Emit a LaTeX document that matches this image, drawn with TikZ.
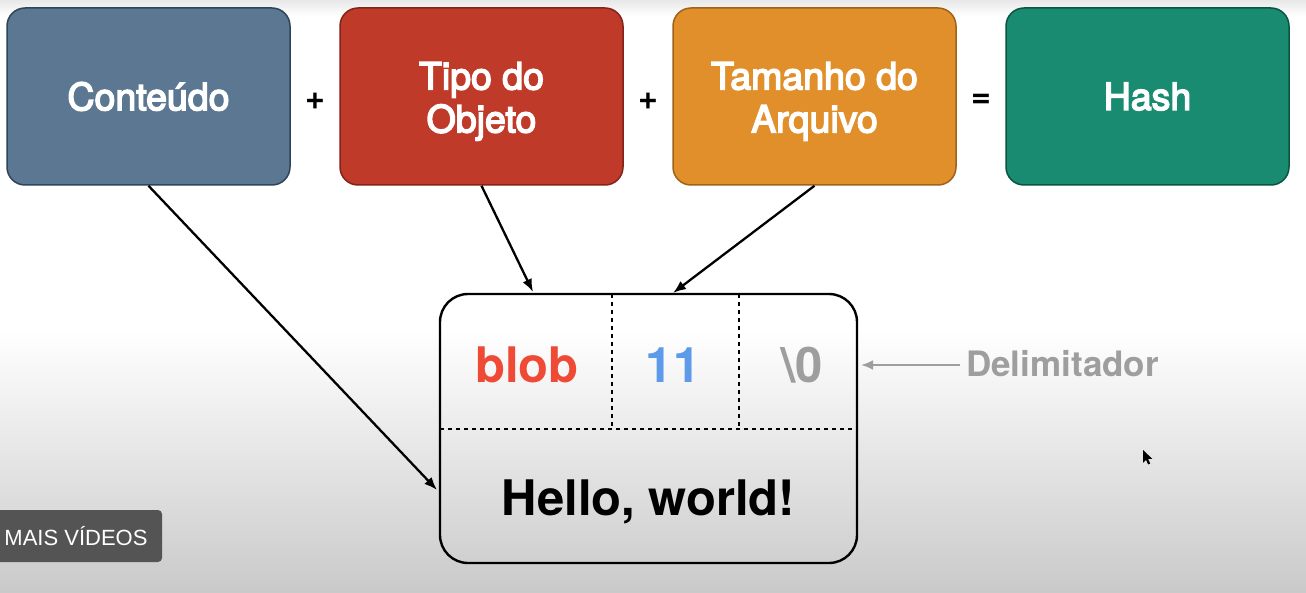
\documentclass[tikz,border=0pt]{standalone}
\usepackage{fontspec}
\setmainfont{TeX Gyre Heros}
\newfontfamily\medfont{TeX Gyre Heros}[FakeBold=4]
\newfontfamily\btnfont{Liberation Sans}
\usetikzlibrary{arrows.meta,calc}
\definecolor{cblue}{RGB}{92,119,146}
\definecolor{cblueD}{RGB}{46,68,90}
\definecolor{cred}{RGB}{192,58,42}
\definecolor{credD}{RGB}{130,36,26}
\definecolor{corange}{RGB}{225,143,43}
\definecolor{corangeD}{RGB}{160,98,25}
\definecolor{cgreen}{RGB}{24,139,113}
\definecolor{cgreenD}{RGB}{12,84,66}
\definecolor{tred}{RGB}{239,74,54}
\definecolor{tblue}{RGB}{94,154,234}
\definecolor{tgray}{RGB}{158,158,158}
\definecolor{btn}{RGB}{84,84,84}
\tikzset{
  topbox/.style={rounded corners=18pt, minimum width=283pt, minimum height=177pt,
    line width=1.5pt, text=white, align=center, inner sep=0pt,
    font=\medfont\fontsize{37.5}{43}\selectfont},
  op/.style={font=\bfseries\fontsize{34}{34}\selectfont, inner sep=0pt},
  cell/.style={font=\bfseries\fontsize{49}{49}\selectfont, inner sep=0pt, anchor=base},
  arr/.style={-{Latex[length=13pt,width=10pt]}, line width=2.3pt, black},
  dashline/.style={line width=2pt, dash pattern=on 4pt off 4pt},
}
\begin{document}
\begin{tikzpicture}[x=1pt,y=-1pt]
\useasboundingbox (0,0) rectangle (1306,593);
% background
\fill[white] (0,0) rectangle (1306,593);
\shade[top color=black!9, bottom color=white] (0,0) rectangle (1306,16);
\shade[top color=white, bottom color=black!21] (0,330) rectangle (1306,593);

% top boxes
\node[topbox, fill=cblue, draw=cblueD] (cont) at (148.5,96.5) {Conteúdo};
\node[topbox, fill=cred, draw=credD] (tipo) at (481.5,96.5) {\rule{0pt}{37pt}Tipo do\\Objeto};
\node[topbox, fill=corange, draw=corangeD] (tam) at (814.5,96.5) {\rule{0pt}{37pt}Tamanho do\\Arquivo};
\node[topbox, fill=cgreen, draw=cgreenD] (hash) at (1147.5,96.5) {Hash};

\node[op] (p1) at (315,101) {+};
\node[op] (p2) at (648,101) {+};
\node[op] (eq) at (981,101) {=};

% memory box
\node[draw, line width=2.4pt, rounded corners=28pt, minimum width=417pt, minimum height=269pt, inner sep=0pt] (mem) at (648.5,428.5) {};
\draw[dashline] (440,429) -- (857,429);
\draw[dashline] (612,294) -- (612,429);
\draw[dashline] (739,294) -- (739,429);

\node[cell, text=tred] (blob) at (527,382) {blob};
\node[cell, text=tblue] (n11) at (673,382) {11};
\node[cell, text=tgray] (n0) at (802,382) {\textbackslash0};
\node[cell, text=black] (hello) at (648.5,515) {Hello, world!};

\node[font=\bfseries\fontsize{35}{35}\selectfont, text=tgray, anchor=base west, inner sep=0pt] (delim) at (966,377) {Delimitador};

% connectors
\coordinate (e1) at (437,490);
\coordinate (e2) at (533,292);
\coordinate (e3) at (673,293);
\coordinate (e4) at (861,365);
\coordinate (s4) at (960,365);
\draw[arr] (cont.south) -- (e1);
\draw[arr] (tipo.south) -- (e2);
\draw[arr] (tam.south) -- (e3);
\draw[-{Latex[length=12pt,width=10pt]}, line width=2.4pt, tgray] (s4) -- (e4);

% button
\fill[btn, rounded corners=4pt] (-8,510) rectangle (162,562);
\node[font=\btnfont\fontsize{22}{22}\selectfont, text=white, inner sep=0pt] (more) at (76,536) {MAIS VÍDEOS};

% cursor
\fill[black, shift={(1143,450)}, scale=0.85] (0,0) -- (0,15) -- (3.5,11.5) -- (6,17) -- (8.5,16) -- (6,10.5) -- (11,10.5) -- cycle;
\end{tikzpicture}
\end{document}
